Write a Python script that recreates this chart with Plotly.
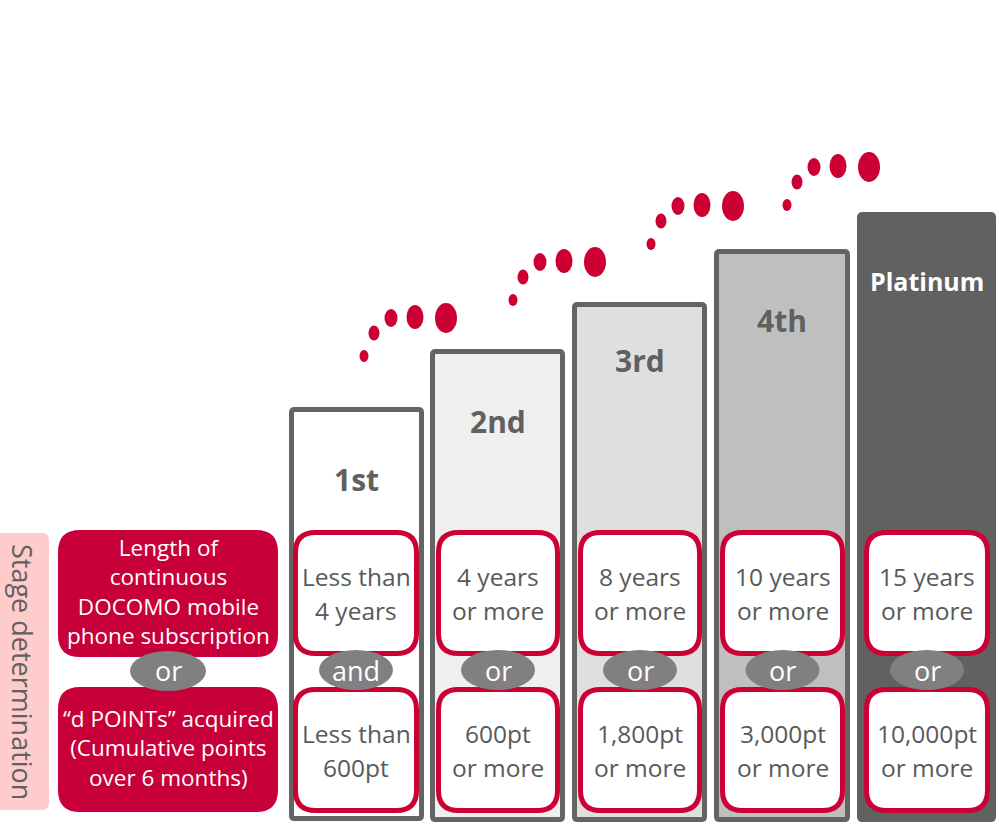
import plotly.graph_objects as go

# ---------------- data ----------------
tiers = ["1st", "2nd", "3rd", "4th", "Platinum"]
years_text = [["Less than", "4 years"], ["4 years", "or more"], ["8 years", "or more"],
              ["10 years", "or more"], ["15 years", "or more"]]
points_text = [["Less than", "600pt"], ["600pt", "or more"], ["1,800pt", "or more"],
               ["3,000pt", "or more"], ["10,000pt", "or more"]]
connectors = ["and", "or", "or", "or", "or"]
left_top_lines = ["Length of", "continuous", "DOCOMO mobile", "phone subscription"]
left_bottom_lines = ["\u201cd POINTs\u201d acquired", "(Cumulative points", "over 6 months)"]
side_label = "Stage determination"

# ---------------- layout geometry (pixels) ----------------
W, H = 999, 828
col_left = [289, 430, 572, 714, 857]
col_right = [424, 565, 707, 850, 996]
col_top = [407, 349, 302, 249, 212]
col_bottom = [821, 822, 822, 822, 822]
col_fill = ["#ffffff", "#efefef", "#dfdfdf", "#bfbfbf", "#616161"]
col_line = ["#646464", "#646464", "#646464", "#646464", "#616161"]
label_y = [479, 421, 360, 320, 281]
label_color = ["#606060", "#606060", "#606060", "#606060", "#ffffff"]
label_size = [30, 30, 30, 30, 25]

box_left = [293, 436, 578, 720, 864]
box_right = [419, 560, 702, 845, 990]
box_top_y = (530, 656)
box_bot_y = (687, 813)
oval_y = 670

RED = "#cc0033"
BOXRED = "#c8003a"
GRAY_TEXT = "#595959"

dot_set_offsets = [(0, 0), (149, -56), (287, -112), (423, -151)]
dot_rel = [(0, 0, 9, 12), (10, -23, 11, 15), (27, -38, 13, 18), (51, -39, 17, 24), (82, -38, 22, 30)]
dot_origin = (364, 356)


def rrect(x0, y0, x1, y1, r):
    return (f"M{x0 + r},{y0} L{x1 - r},{y0} Q{x1},{y0} {x1},{y0 + r} "
            f"L{x1},{y1 - r} Q{x1},{y1} {x1 - r},{y1} L{x0 + r},{y1} "
            f"Q{x0},{y1} {x0},{y1 - r} L{x0},{y0 + r} Q{x0},{y0} {x0 + r},{y0} Z")


shapes = []
annotations = []
FONT = "Open Sans"


def text(x, y, s, size, color, bold=False, angle=0):
    annotations.append(dict(
        x=x, y=y, xref="x", yref="y", text=(f"<b>{s}</b>" if bold else s),
        showarrow=False, xanchor="center", yanchor="middle", textangle=angle,
        font=dict(family=FONT, size=size, color=color)))


# side label
shapes.append(dict(type="path", path=rrect(-10, 533, 49, 810, 7), fillcolor="#ffcccc",
                   line=dict(width=0), layer="below"))
text(23, 672, side_label, 27, "#606060", angle=90)

# left red boxes
for (y0, y1), lines, ymid in [((530, 657), left_top_lines, 591),
                              ((687, 812), left_bottom_lines, 748)]:
    shapes.append(dict(type="path", path=rrect(58, y0, 278, y1, 22), fillcolor=BOXRED,
                       line=dict(width=0)))
    text(168, ymid, "<br>".join(lines), 22.5, "#ffffff")
shapes.append(dict(type="circle", x0=130, x1=206, y0=651, y1=691, fillcolor="#808080",
                   line=dict(width=0)))
text(168, 670, "or", 27, "#ffffff")

# columns
for i, name in enumerate(tiers):
    lw = 5
    h = lw / 2
    shapes.append(dict(type="path",
                       path=rrect(col_left[i] + h, col_top[i] + h, col_right[i] - h, col_bottom[i] - h, 3),
                       fillcolor=col_fill[i], line=dict(color=col_line[i], width=lw)))
    cx = (col_left[i] + col_right[i]) / 2
    text(cx, label_y[i], name, label_size[i], label_color[i], bold=True)

    bx0, bx1 = box_left[i] + 2.5, box_right[i] - 2.5
    bcx = (box_left[i] + box_right[i]) / 2
    for (y0, y1), lines in [(box_top_y, years_text[i]), (box_bot_y, points_text[i])]:
        shapes.append(dict(type="path", path=rrect(bx0, y0 + 2.5, bx1, y1 - 2.5, 20),
                           fillcolor="#ffffff", line=dict(color=RED, width=5)))
        mid = (y0 + y1) / 2
        text(bcx, mid - 17, lines[0], 24.5, GRAY_TEXT)
        text(bcx, mid + 17, lines[1], 24.5, GRAY_TEXT)
    shapes.append(dict(type="circle", x0=bcx - 37, x1=bcx + 37, y0=oval_y - 20, y1=oval_y + 20,
                       fillcolor="#808080", line=dict(width=0)))
    text(bcx, oval_y, connectors[i], 27, "#ffffff")

# dots
for ox, oy in dot_set_offsets:
    for dx, dy, w, hh in dot_rel:
        cx = dot_origin[0] + ox + dx
        cy = dot_origin[1] + oy + dy
        shapes.append(dict(type="circle", x0=cx - w / 2, x1=cx + w / 2, y0=cy - hh / 2, y1=cy + hh / 2,
                           fillcolor=RED, line=dict(width=0)))

fig = go.Figure()
fig.update_layout(
    width=W, height=H, margin=dict(l=0, r=0, t=0, b=0),
    paper_bgcolor="#ffffff", plot_bgcolor="#ffffff",
    xaxis=dict(range=[0, W], visible=False, fixedrange=True),
    yaxis=dict(range=[H, 0], visible=False, fixedrange=True),
    shapes=shapes, annotations=annotations, showlegend=False,
)
fig.write_html("out.html", config={"displayModeBar": False})
